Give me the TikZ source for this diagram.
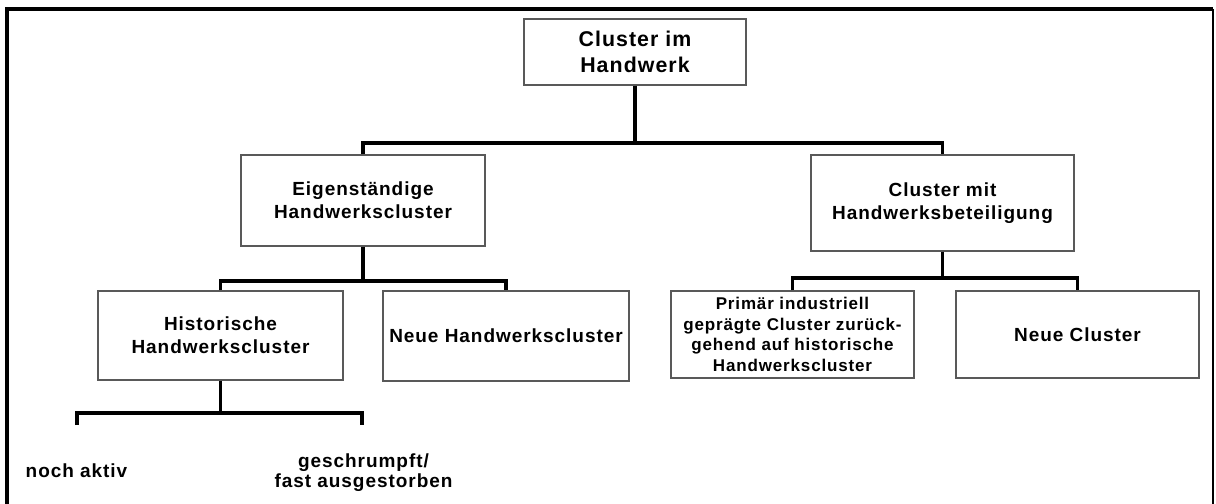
\documentclass[tikz,border=0pt]{standalone}
\usepackage{fontspec}
\setmainfont{Liberation Sans}[LetterSpace=5]
\newcommand\dgbody{\fontsize{14.25pt}{17.25pt}\selectfont\bfseries}
\newcommand\dgsmall{\fontsize{12.75pt}{15.5pt}\selectfont\bfseries}
\newcommand\dglbl{\fontsize{14.25pt}{15pt}\selectfont\bfseries}
\newcommand\dgtop{\fontsize{16pt}{19.5pt}\selectfont\bfseries}
\begin{document}
\begin{tikzpicture}[x=0.75pt,y=-0.75pt,
  box/.style={draw=black!65, line width=0.8pt, fill=white, align=center, inner sep=0pt, font=\dgbody},
  conn/.style={draw=black, line width=2.3pt, line join=miter},
  lbl/.style={align=center, inner sep=0pt, font=\dglbl}]
\useasboundingbox (0,0) rectangle (1216,503);
% frame
\draw[line width=3.3pt, line join=miter] (7,520) -- (7,9) -- (1213,9);
\draw[line width=1.6pt] (1213,9) -- (1213,520);
% boxes
\node[box, font=\dgtop, minimum width=166.5pt, minimum height=49.5pt] (top) at (635,52) {Cluster im\\Handwerk};
\node[box, minimum width=183pt, minimum height=68.25pt] (eig) at (363,200.5) {Eigenständige\\Handwerkscluster};
\node[box, minimum width=197.25pt, minimum height=72pt] (cmh) at (942.5,203) {Cluster mit\\Handwerksbeteiligung};
\node[box, minimum width=183.75pt, minimum height=66.75pt] (hist) at (220.5,335.5) {Historische\\Handwerkscluster};
\node[box, minimum width=184.5pt, minimum height=67.5pt] (neuh) at (506,336) {Neue Handwerkscluster};
\node[box, font=\dgsmall, minimum width=182.25pt, minimum height=65.25pt] (prim) at (792.5,334.5) {Primär industriell\\geprägte Cluster zurück-\\gehend auf historische\\Handwerkscluster};
\node[box, minimum width=182.25pt, minimum height=65.25pt] (neuc) at (1077.5,334.5) {Neue Cluster};
% labels
\node[lbl] (aktiv) at (76.5,471) {noch aktiv};
\node[lbl] (schr) at (363.5,472.6) {geschrumpft/\\fast ausgestorben};
% connectors
\coordinate (b1) at (635,143);
\coordinate (b2) at (363,281);
\coordinate (b3) at (942.5,278);
\coordinate (b4) at (220.5,413);
\coordinate (e1) at (77,425);
\coordinate (e2) at (362,425);
\draw[conn] (top.south) -- (b1);
\draw[conn] (eig.north) |- (b1) -| (cmh.north);
\draw[conn] (eig.south) -- (b2);
\draw[conn] (hist.north) |- (b2) -| (neuh.north);
\draw[conn] (cmh.south) -- (b3);
\draw[conn] (prim.north) |- (b3) -| (neuc.north);
\draw[conn] (hist.south) -- (b4);
\draw[conn] (e1) |- (b4) -| (e2);
\end{tikzpicture}
\end{document}
